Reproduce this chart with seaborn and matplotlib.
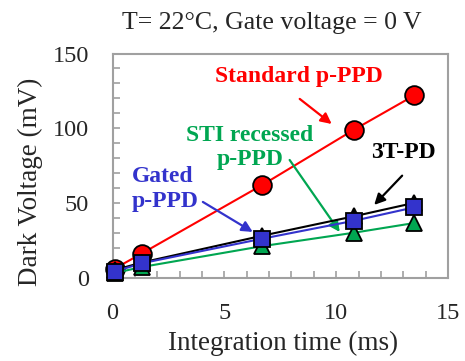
import matplotlib
matplotlib.use("Agg")
import matplotlib.pyplot as plt
from matplotlib.ticker import MultipleLocator
import seaborn as sns
import pandas as pd

# ---- data ----
time_ms = [0.1, 1.3, 6.7, 10.8, 13.5]
standard_ppd = [6, 16, 62, 99, 122]
tpd_3t = [5, 10, 28, 41, 50]
sti_recessed = [3, 7, 21, 30, 36.5]
gated_ppd = [4, 9.5, 26, 38, 47]

title = "T= 22\u00b0C, Gate voltage = 0 V"
xlabel = "Integration time (ms)"
ylabel = "Dark Voltage (mV)"
x_ticks = [0, 5, 10, 15]
y_ticks = [0, 50, 100, 150]

RED = "#ff0000"
BLACK = "#000000"
GREEN = "#00a651"
BLUE = "#3333cc"

sns.set_theme(style="white")
plt.rcParams["font.family"] = ["Liberation Serif", "DejaVu Serif"]

W, H = 465, 361
fig = plt.figure(figsize=(W / 100, H / 100), dpi=100)
ax = fig.add_axes([112.5 / W, 1 - 277.5 / H, 335.5 / W, 224 / H])

series = [
    (standard_ppd, RED, "o", 13.5),
    (tpd_3t, BLACK, "^", 12),
    (sti_recessed, GREEN, "^", 12),
    (gated_ppd, BLUE, "s", 11),
]
for i, (vals, col, mk, ms) in enumerate(series):
    df = pd.DataFrame({"t": time_ms, "v": vals})
    sns.lineplot(data=df, x="t", y="v", ax=ax, color=col, lw=1.5,
                 marker=mk, markersize=ms, markeredgecolor="black",
                 markeredgewidth=1.3, markerfacecolor=col, clip_on=False,
                 zorder=3 + i)

ax.set_xlim(0, 15)
ax.set_ylim(0, 150)
ax.set_xticks(x_ticks)
ax.set_yticks(y_ticks)
ax.xaxis.set_minor_locator(MultipleLocator(1))
ax.yaxis.set_minor_locator(MultipleLocator(10))
ax.tick_params(which="both", direction="in", length=5, width=1.2,
               color="#a0a0a0", bottom=True, left=True, top=False, right=False,
               labelsize=17.5)
ax.tick_params(axis="x", which="major", pad=18.5)
ax.tick_params(axis="y", which="major", pad=17)
for s in ax.spines.values():
    s.set_color("#a0a0a0")
    s.set_linewidth(1.5)

ax.set_xlabel(xlabel, fontsize=19.5)
ax.xaxis.set_label_coords(283 / W, 1 - 343 / H, transform=fig.transFigure)
ax.xaxis.label.set_va("center")
ax.set_ylabel(ylabel, fontsize=19.5)
ax.yaxis.set_label_coords(30 / W, 1 - 182 / H, transform=fig.transFigure)
ax.yaxis.label.set_va("center")
ax.yaxis.label.set_ha("center")
fig.text(271.5 / W, 1 - 23 / H, title, fontsize=18.6, ha="center", va="center")

bold = dict(fontweight="bold", fontsize=17)
arrow = lambda c: dict(arrowstyle="-|>", color=c, lw=1.6, mutation_scale=16,
                       shrinkA=0, shrinkB=0)

ax.annotate("", xy=(9.8, 102.8), xytext=(8.37, 119.6),
            arrowprops=arrow(RED))
ax.text(8.33, 134.3, "Standard p-PPD", color=RED, ha="center", va="center", **bold)

ax.text(6.14, 87, "STI recessed\np-PPD", color=GREEN, ha="center",
        va="center", linespacing=1.23, **bold)
ax.annotate("", xy=(10.16, 30.5), xytext=(7.92, 78.7),
            arrowprops=arrow(GREEN))

ax.text(0.87, 59.3, "Gated\np-PPD", color=BLUE, ha="left", va="center",
        linespacing=1.2, **bold)
ax.annotate("", xy=(6.27, 30.5), xytext=(4.04, 50.6),
            arrowprops=arrow(BLUE))

ax.text(13.0, 84, "3T-PD", color=BLACK, ha="center", va="center", **bold)
ax.annotate("", xy=(11.7, 48.6), xytext=(12.95, 68.2),
            arrowprops=arrow(BLACK))

fig.savefig("out.png", dpi=100)
